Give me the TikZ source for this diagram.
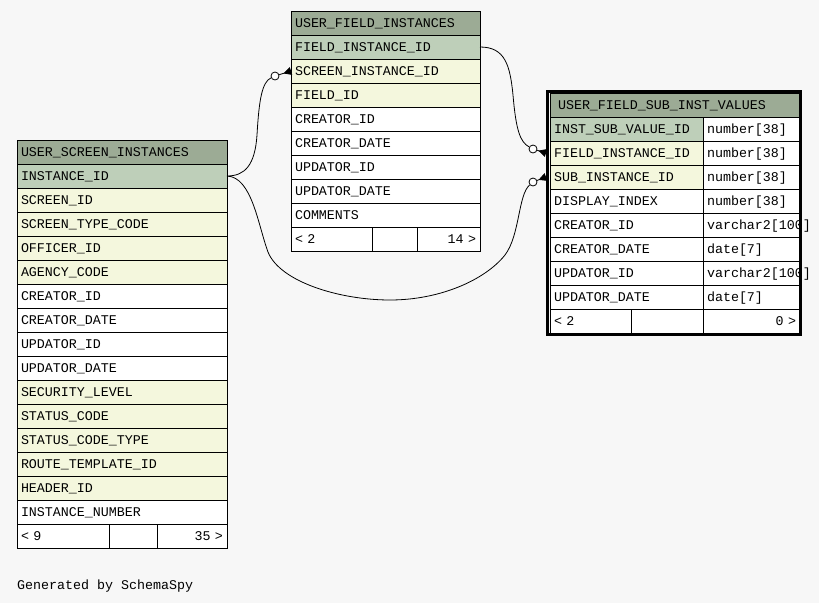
\documentclass[tikz,border=0pt]{standalone}
\usepackage{fontspec}
\newfontfamily\monof{Liberation Mono}
\usetikzlibrary{calc,arrows.meta}
\definecolor{bg}{HTML}{F7F7F7}
\definecolor{hdr}{HTML}{9CAB95}
\definecolor{pk}{HTML}{BECFB9}
\definecolor{fk}{HTML}{F4F7DD}
\newcommand\tabfont{\monof\fontsize{13.33}{16}\selectfont}
\tikzset{
  cell/.style={draw=black, line width=1pt, anchor=north west, minimum height=24pt,
    inner xsep=4pt, inner ysep=0pt, outer sep=0pt, text height=9pt, text depth=0pt,
    font=\tabfont, align=left},
  rcell/.style={cell, align=right},
  ocirc/.style={circle, draw=black, line width=0.8pt, fill=white, minimum size=8pt, inner sep=0pt},
  link/.style={draw=black, line width=0.8pt},
  crow/.style={-{Triangle[reversed, length=8pt, width=8pt]}},
  gen/.style={font=\tabfont, anchor=base west, inner sep=0pt}
}
\begin{document}
\begin{tikzpicture}[x=1pt,y=-1pt]
\fill[bg] (0,0) rectangle (819,603);
\useasboundingbox (0,0) rectangle (819,603);

% ---------- USER_SCREEN_INSTANCES ----------
\node[cell, fill=hdr, text width=202pt] (usih) at (17,140) {USER\_SCREEN\_INSTANCES};
\foreach [count=\i from 0] \txt/\col in {INSTANCE\_ID/pk, SCREEN\_ID/fk, SCREEN\_TYPE\_CODE/fk,
  OFFICER\_ID/fk, AGENCY\_CODE/fk, CREATOR\_ID/white, CREATOR\_DATE/white, UPDATOR\_ID/white,
  UPDATOR\_DATE/white, SECURITY\_LEVEL/fk, STATUS\_CODE/fk, STATUS\_CODE\_TYPE/fk,
  ROUTE\_TEMPLATE\_ID/fk, HEADER\_ID/fk, INSTANCE\_NUMBER/white}
  \node[cell, fill=\col, text width=202pt] (usi\i) at (17,{164+24*\i}) {\txt};
\node[cell, fill=white, text width=84pt] (usif1) at (17,524) {< 9};
\node[cell, fill=white, text width=40pt] (usif2) at (109,524) {};
\node[rcell, fill=white, text width=62pt] (usif3) at (157,524) {35 >};

% ---------- USER_FIELD_INSTANCES ----------
\node[cell, fill=hdr, text width=181pt] (ufih) at (291,11) {USER\_FIELD\_INSTANCES};
\foreach [count=\i from 0] \txt/\col in {FIELD\_INSTANCE\_ID/pk, SCREEN\_INSTANCE\_ID/fk,
  FIELD\_ID/fk, CREATOR\_ID/white, CREATOR\_DATE/white, UPDATOR\_ID/white,
  UPDATOR\_DATE/white, COMMENTS/white}
  \node[cell, fill=\col, text width=181pt] (ufi\i) at (291,{35+24*\i}) {\txt};
\node[cell, fill=white, text width=73pt] (ufif1) at (291,227) {< 2};
\node[cell, fill=white, text width=37pt] (ufif2) at (372,227) {};
\node[rcell, fill=white, text width=55pt] (ufif3) at (417,227) {14 >};

% ---------- USER_FIELD_SUB_INST_VALUES ----------
\node[cell, fill=hdr, inner xsep=8pt, text width=234pt] (ufsih) at (550,93) {USER\_FIELD\_SUB\_INST\_VALUES};
\foreach [count=\i from 0] \txt/\typ/\col in {INST\_SUB\_VALUE\_ID/number[38]/pk,
  FIELD\_INSTANCE\_ID/number[38]/fk, SUB\_INSTANCE\_ID/number[38]/fk,
  DISPLAY\_INDEX/number[38]/white, CREATOR\_ID/varchar2[100]/white,
  CREATOR\_DATE/date[7]/white, UPDATOR\_ID/varchar2[100]/white, UPDATOR\_DATE/date[7]/white}
  {
  \node[cell, fill=\col, text width=145pt] (ufsi\i) at (550,{117+24*\i}) {\txt};
  \node[cell, fill=white, text width=89pt] (ufst\i) at (703,{117+24*\i}) {\typ};
  }
\node[cell, fill=white, text width=73pt] (ufsif1) at (550,309) {< 2};
\node[cell, fill=white, text width=64pt] (ufsif2) at (631,309) {};
\node[rcell, fill=white, text width=89pt] (ufsif3) at (703,309) {0 >};
\draw[line width=3pt] (547.5,91.5) rectangle (800.5,334.5);

% ---------- connectors ----------
\node[ocirc] (o1) at (275,76) {};
\node[ocirc] (o2) at (533,182) {};
\node[ocirc] (o3) at (533,149) {};

\draw[link] (usi0.east) .. controls (245,176) and (255,165) .. (257,135)
  .. controls (259,100) and (262,82) .. (o1);
\draw[link, crow] (o1) -- (ufi1.west);

\draw[link] (usi0.east) .. controls (252,177) and (258,225) .. (268,252)
  .. controls (280,282) and (340,300) .. (390,300)
  .. controls (440,300) and (485,280) .. (505,255)
  .. controls (520,235) and (518,195) .. (o2);
\draw[link, crow] (o2) -- ($(ufsi2.west)+(-4,0)$);

\draw[link] (ufi0.east) .. controls (505,47) and (510,65) .. (513,95)
  .. controls (516,130) and (520,142) .. (o3);
\draw[link, crow] (o3) -- ($(ufsi1.west)+(-4,0)$);

\node[gen] (gen) at (17,589) {Generated by SchemaSpy};
\end{tikzpicture}
\end{document}
